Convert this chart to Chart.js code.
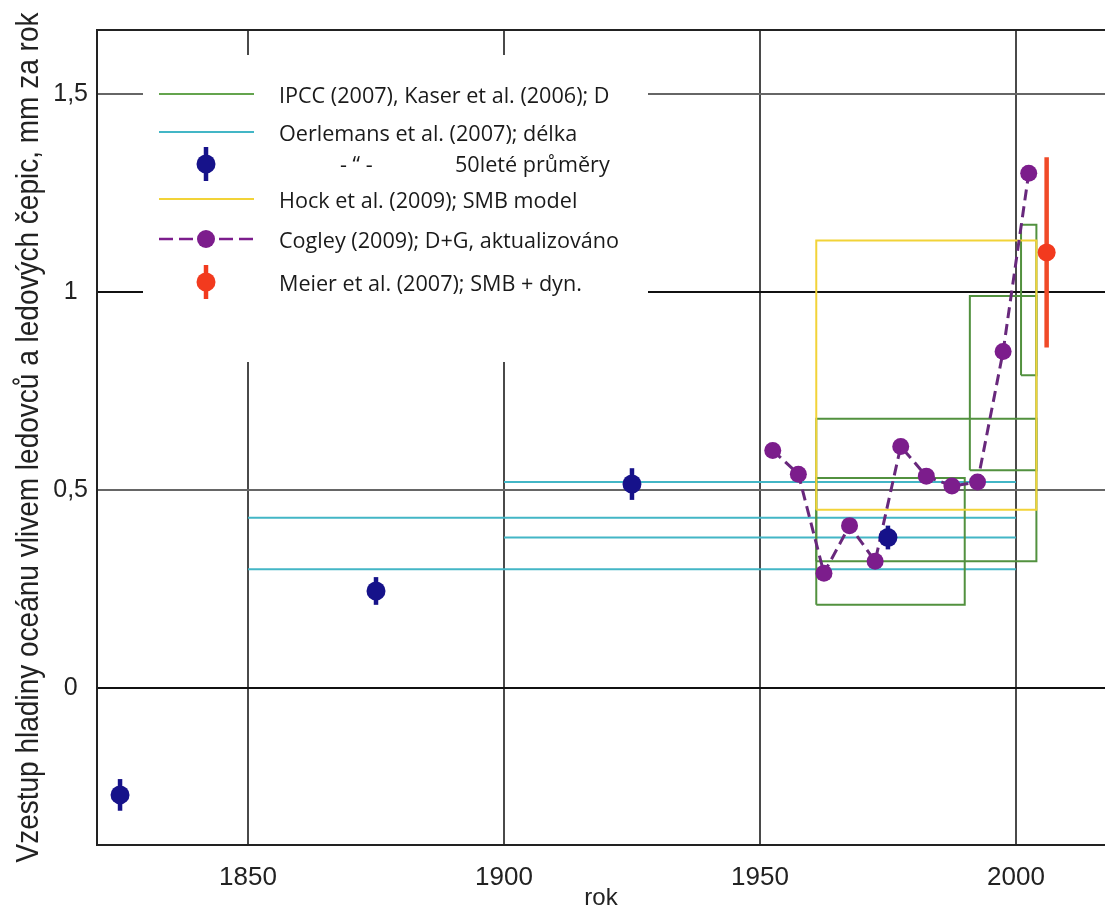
<!DOCTYPE html>
<html>
<head>
<meta charset="utf-8">
<script src="https://cdn.jsdelivr.net/npm/chart.js@4.4.0/dist/chart.umd.min.js"></script>
<style>
  body { margin: 0; background: #fff; }
  canvas { display: block; }
</style>
</head>
<body>
<canvas id="chart" width="1105" height="909"></canvas>
<script>
// IPCC (2007), Kaser et al. (2006): [from, to, low, high]
const ipccBoxes = [
  [1961, 1990, 0.21, 0.53],
  [1961, 2004, 0.32, 0.68],
  [1991, 2004, 0.55, 0.99],
  [2001, 2004, 0.79, 1.17]
];
// Oerlemans et al. (2007), from glacier length: [from, to, value]
const oerlemansLines = [
  [1850, 2000, 0.30],
  [1850, 2000, 0.43],
  [1900, 2000, 0.38],
  [1900, 2000, 0.52]
];
// Oerlemans, 50-year means
const meanYears = [1825, 1875, 1925, 1975];
const meanValues = [-0.27, 0.245, 0.515, 0.38];
const meanErrors = [0.04, 0.035, 0.04, 0.03];
// Hock et al. (2009), SMB model
const hockBox = [1961, 2004, 0.45, 1.13];
// Cogley (2009), pentads
const cogleyYears = [1952.5, 1957.5, 1962.5, 1967.5, 1972.5, 1977.5, 1982.5, 1987.5, 1992.5, 1997.5, 2002.5];
const cogleyValues = [0.60, 0.54, 0.29, 0.41, 0.32, 0.61, 0.535, 0.51, 0.52, 0.85, 1.30];
// Meier et al. (2007)
const meierYears = [2006];
const meierValues = [1.10];
const meierErrors = [0.24];

const xTicks = [1850, 1900, 1950, 2000];
const yTicks = [0, 0.5, 1, 1.5];
const yTitle = 'Vzestup hladiny oceánu vlivem ledovců a ledových čepic, mm za rok';

const green = '#52913f';
const cyan = '#43b6c6';
const navy = '#16128a';
const yellow = '#f2d338';
const purple = '#7c1d8c';
const purpleLine = '#68287c';
const red = '#f23a1e';

const legendRows = [
  { kind: 'line', color: '#64a44e', text: 'IPCC (2007), Kaser et al. (2006); D' },
  { kind: 'line', color: cyan, text: 'Oerlemans et al. (2007); délka' },
  { kind: 'bar', color: navy, text: '50leté průměry', ditto: '- “ -' },
  { kind: 'line', color: yellow, text: 'Hock et al. (2009); SMB model' },
  { kind: 'dash', color: purple, text: 'Cogley (2009); D+G, aktualizováno' },
  { kind: 'bar', color: red, text: 'Meier et al. (2007); SMB + dyn.' }
];

const boxPoints = b => [
  { x: b[0], y: b[2] }, { x: b[1], y: b[2] }, { x: b[1], y: b[3] },
  { x: b[0], y: b[3] }, { x: b[0], y: b[2] }
];
const boxSet = (b, color, order) => ({
  data: boxPoints(b), showLine: true, borderColor: color, borderWidth: 2,
  pointRadius: 0, order: order
});
const errorSets = (xs, ys, es, color, order) => xs.map((x, i) => ({
  data: [{ x: x, y: ys[i] - es[i] }, { x: x, y: ys[i] + es[i] }],
  showLine: true, borderColor: color, borderWidth: 4.5, borderCapStyle: 'butt',
  pointRadius: 0, order: order
}));

const datasets = [
  {
    data: meierYears.map((x, i) => ({ x: x, y: meierValues[i] })),
    pointRadius: 9, pointBackgroundColor: red, pointBorderWidth: 0, order: 0
  },
  ...errorSets(meierYears, meierValues, meierErrors, '#f04a28', 1),
  {
    data: meanYears.map((x, i) => ({ x: x, y: meanValues[i] })),
    pointRadius: 9.5, pointBackgroundColor: navy, pointBorderWidth: 0, order: 2
  },
  ...errorSets(meanYears, meanValues, meanErrors, navy, 3),
  {
    data: cogleyYears.map((x, i) => ({ x: x, y: cogleyValues[i] })),
    showLine: true, borderColor: purpleLine, borderWidth: 3, borderDash: [11, 6],
    pointRadius: 8.5, pointBackgroundColor: purple, pointBorderWidth: 0, order: 4
  },
  boxSet(hockBox, yellow, 5),
  ...ipccBoxes.map(b => boxSet(b, green, 6)),
  ...oerlemansLines.map(l => ({
    data: [{ x: l[0], y: l[2] }, { x: l[1], y: l[2] }],
    showLine: true, borderColor: cyan, borderWidth: 2, pointRadius: 0, order: 7
  }))
];

const font = 'Liberation Sans, Arial, sans-serif';

// top frame line, white legend box over the grid, rotated y title
const legendPlugin = {
  id: 'legendBox',
  afterDatasetsDraw(chart) {
    const { ctx, chartArea: a } = chart;
    ctx.save();
    ctx.strokeStyle = '#222';
    ctx.lineWidth = 2;
    ctx.beginPath();
    ctx.moveTo(a.left, a.top);
    ctx.lineTo(a.right, a.top);
    ctx.stroke();

    const bx = 143, by = 55, bw = 505, bh = 307;
    ctx.fillStyle = '#fff';
    ctx.fillRect(bx, by, bw, bh);

    const rowsY = [94, 132, 164, 199, 239, 282];
    const x0 = bx + 16, x1 = bx + 111, mx = bx + 63, tx = bx + 136;
    ctx.font = '21.6px "Open Sans", sans-serif';
    ctx.textBaseline = 'middle';
    ctx.textAlign = 'left';
    legendRows.forEach((r, i) => {
      const y = rowsY[i];
      ctx.strokeStyle = r.color;
      ctx.fillStyle = r.color;
      if (r.kind === 'line') {
        ctx.lineWidth = 2;
        ctx.beginPath(); ctx.moveTo(x0, y); ctx.lineTo(x1, y); ctx.stroke();
      } else if (r.kind === 'dash') {
        ctx.lineWidth = 2.5;
        ctx.setLineDash([14, 6]);
        ctx.beginPath(); ctx.moveTo(x0, y); ctx.lineTo(x1, y); ctx.stroke();
        ctx.setLineDash([]);
        ctx.beginPath(); ctx.arc(mx, y, 9, 0, Math.PI * 2); ctx.fill();
      } else {
        ctx.lineWidth = 4.5;
        ctx.beginPath(); ctx.moveTo(mx, y - 17); ctx.lineTo(mx, y + 17); ctx.stroke();
        ctx.beginPath(); ctx.arc(mx, y, 9.5, 0, Math.PI * 2); ctx.fill();
      }
      ctx.fillStyle = '#1a1a1a';
      if (r.ditto) {
        ctx.fillText(r.ditto, bx + 197, y + 2);
        ctx.fillText(r.text, bx + 312, y + 2);
      } else {
        ctx.fillText(r.text, tx, y + 3);
      }
    });

    ctx.translate(38, (a.top + a.bottom) / 2);
    ctx.rotate(-Math.PI / 2);
    ctx.font = '32px ' + font;
    ctx.fillStyle = '#222';
    ctx.textAlign = 'center';
    ctx.textBaseline = 'alphabetic';
    ctx.fillText(yTitle, 0, 0, 850);
    ctx.restore();
  }
};

new Chart(document.getElementById('chart'), {
  type: 'scatter',
  data: { datasets: datasets },
  options: {
    responsive: false,
    animation: false,
    events: [],
    layout: { autoPadding: false, padding: { top: 30, right: 0, left: 0, bottom: 0 } },
    plugins: { legend: { display: false }, tooltip: { enabled: false } },
    scales: {
      x: {
        type: 'linear',
        min: 1820.5,
        max: 2017.4,
        afterBuildTicks: s => { s.ticks = xTicks.map(v => ({ value: v })); },
        afterFit: s => { s.height = 64; },
        grid: { color: '#4a4a4a', lineWidth: 2, drawTicks: false },
        border: { color: '#222', width: 2 },
        ticks: {
          padding: 17, color: '#222', font: { family: font, size: 26 },
          callback: v => String(v)
        },
        title: {
          display: true, text: 'rok', color: '#222',
          font: { family: font, size: 24, lineHeight: 0.85 },
          padding: { top: 0, bottom: 0 }
        }
      },
      y: {
        type: 'linear',
        min: -0.3965,
        max: 1.6616,
        afterBuildTicks: s => { s.ticks = yTicks.map(v => ({ value: v })); },
        afterFit: s => { s.width = 97; },
        grid: {
          color: c => (c.tick && (c.tick.value === 0 || c.tick.value === 1)) ? '#111' : '#666',
          lineWidth: 2, drawTicks: false
        },
        border: { color: '#222', width: 2 },
        ticks: {
          padding: 9, crossAlign: 'center', color: '#222',
          font: { family: font, size: 25 },
          callback: v => String(v).replace('.', ',')
        },
        title: { display: false }
      }
    }
  },
  plugins: [legendPlugin]
});
</script>
</body>
</html>
